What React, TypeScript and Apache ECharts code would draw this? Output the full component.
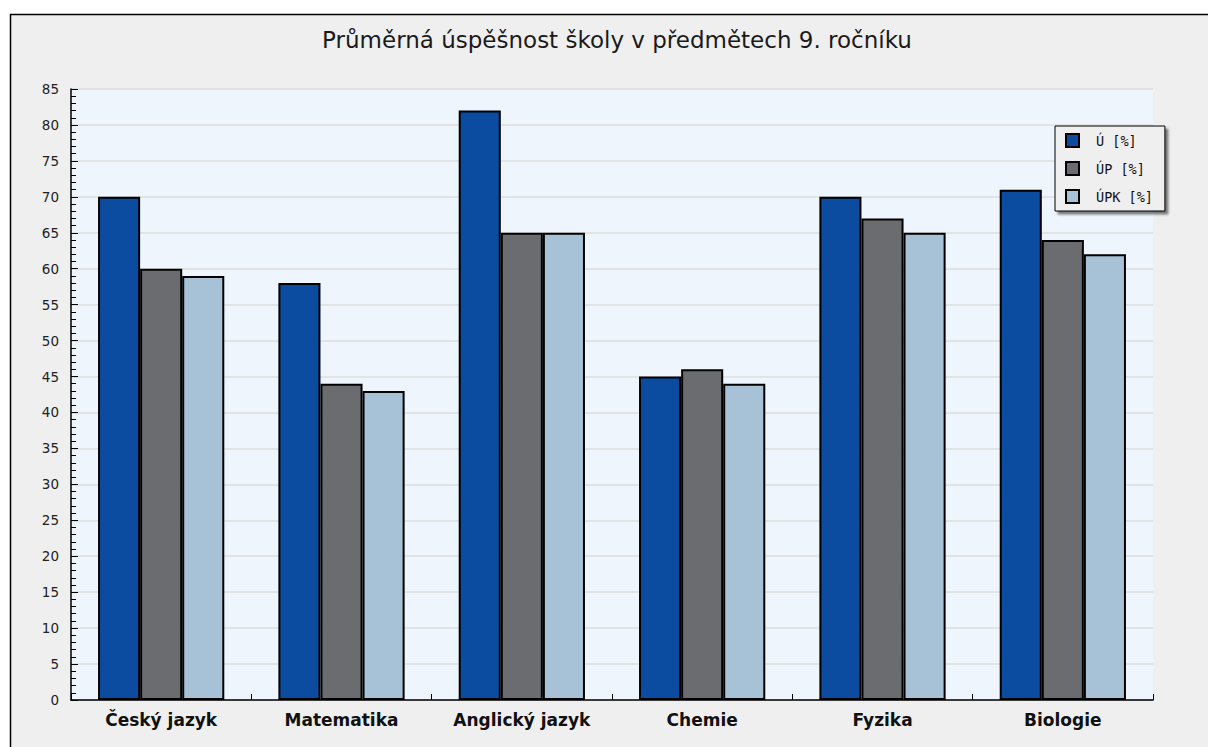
import React, { useEffect, useRef } from "react";
import * as echarts from "echarts";

const title = "Průměrná úspěšnost školy v předmětech 9. ročníku";
const categories = ["Český jazyk", "Matematika", "Anglický jazyk", "Chemie", "Fyzika", "Biologie"];
const seriesNames = ["Ú [%]", "ÚP [%]", "ÚPK [%]"];
const valuesU = [70, 58, 82, 45, 70, 71];
const valuesUP = [60, 44, 65, 46, 67, 64];
const valuesUPK = [59, 43, 65, 44, 65, 62];
const colors = ["#0b4ca0", "#6b6c70", "#a7c1d6"];

export default function App() {
  const ref = useRef<HTMLDivElement>(null);
  useEffect(() => {
    if (!ref.current) return;
    const chart = echarts.init(ref.current, undefined, { renderer: "svg" });
    const data = [valuesU, valuesUP, valuesUPK];
    chart.setOption({
      animation: false,
      backgroundColor: "#ffffff",
      graphic: [
        {
          type: "rect",
          z: -10,
          shape: { x: 10.5, y: 14.5, width: 1300, height: 800 },
          style: { fill: "#efefef", stroke: "#000000", lineWidth: 1.5 },
        },
      ],
      title: {
        text: title,
        left: 612,
        textAlign: "center",
        top: 23,
        textStyle: { fontFamily: "DejaVu Sans", fontSize: 23, fontWeight: "normal", color: "#1a1a1a" },
      },
      legend: {
        orient: "vertical",
        left: 1055,
        top: 126,
        backgroundColor: "#efefef",
        borderColor: "#000000",
        borderWidth: 1,
        borderRadius: 0,
        shadowColor: "rgba(0,0,0,0.5)",
        shadowOffsetX: 3,
        shadowOffsetY: 3,
        shadowBlur: 2,
        padding: [7, 12, 7, 10],
        itemWidth: 13,
        itemHeight: 13,
        itemGap: 13,
        icon: "rect",
        textStyle: { fontFamily: "DejaVu Sans Mono", fontSize: 13.5, color: "#111", padding: [0, 0, 0, 12] },
        data: seriesNames,
      },
      grid: {
        left: 71,
        top: 89,
        right: 55,
        bottom: 47,
        show: true,
        backgroundColor: "#eef5fd",
        borderWidth: 0,
      },
      xAxis: {
        type: "category",
        data: categories,
        axisLine: { show: true, lineStyle: { color: "#000", width: 1.5 } },
        axisTick: { show: true, inside: true, length: 6, alignWithLabel: false, lineStyle: { color: "#000" } },
        axisLabel: {
          fontFamily: "DejaVu Sans",
          fontSize: 17,
          fontWeight: "bold",
          color: "#111",
          margin: 11,
        },
      },
      yAxis: {
        type: "value",
        min: 0,
        max: 85,
        interval: 5,
        axisLine: { show: true, lineStyle: { color: "#000", width: 1.5 } },
        axisTick: { show: true, inside: true, length: 7, lineStyle: { color: "#000" } },
        minorTick: { show: true, splitNumber: 5, length: 5, lineStyle: { color: "#000" } },
        axisLabel: { fontFamily: "DejaVu Sans", fontSize: 13.5, color: "#222", margin: 12 },
        splitLine: { show: true, lineStyle: { color: "#dcdcdc", width: 1.5 } },
      },
      series: seriesNames.map((name, i) => ({
        name,
        type: "bar",
        data: data[i],
        barGap: "0%",
        barCategoryGap: "30%",
        itemStyle: { color: colors[i], borderColor: "#000000", borderWidth: 2 },
      })),
    });
    return () => chart.dispose();
  }, []);
  return (
    <div
      ref={ref}
      style={{ position: "fixed", left: 0, top: 0, width: 1208, height: 747 }}
    />
  );
}
